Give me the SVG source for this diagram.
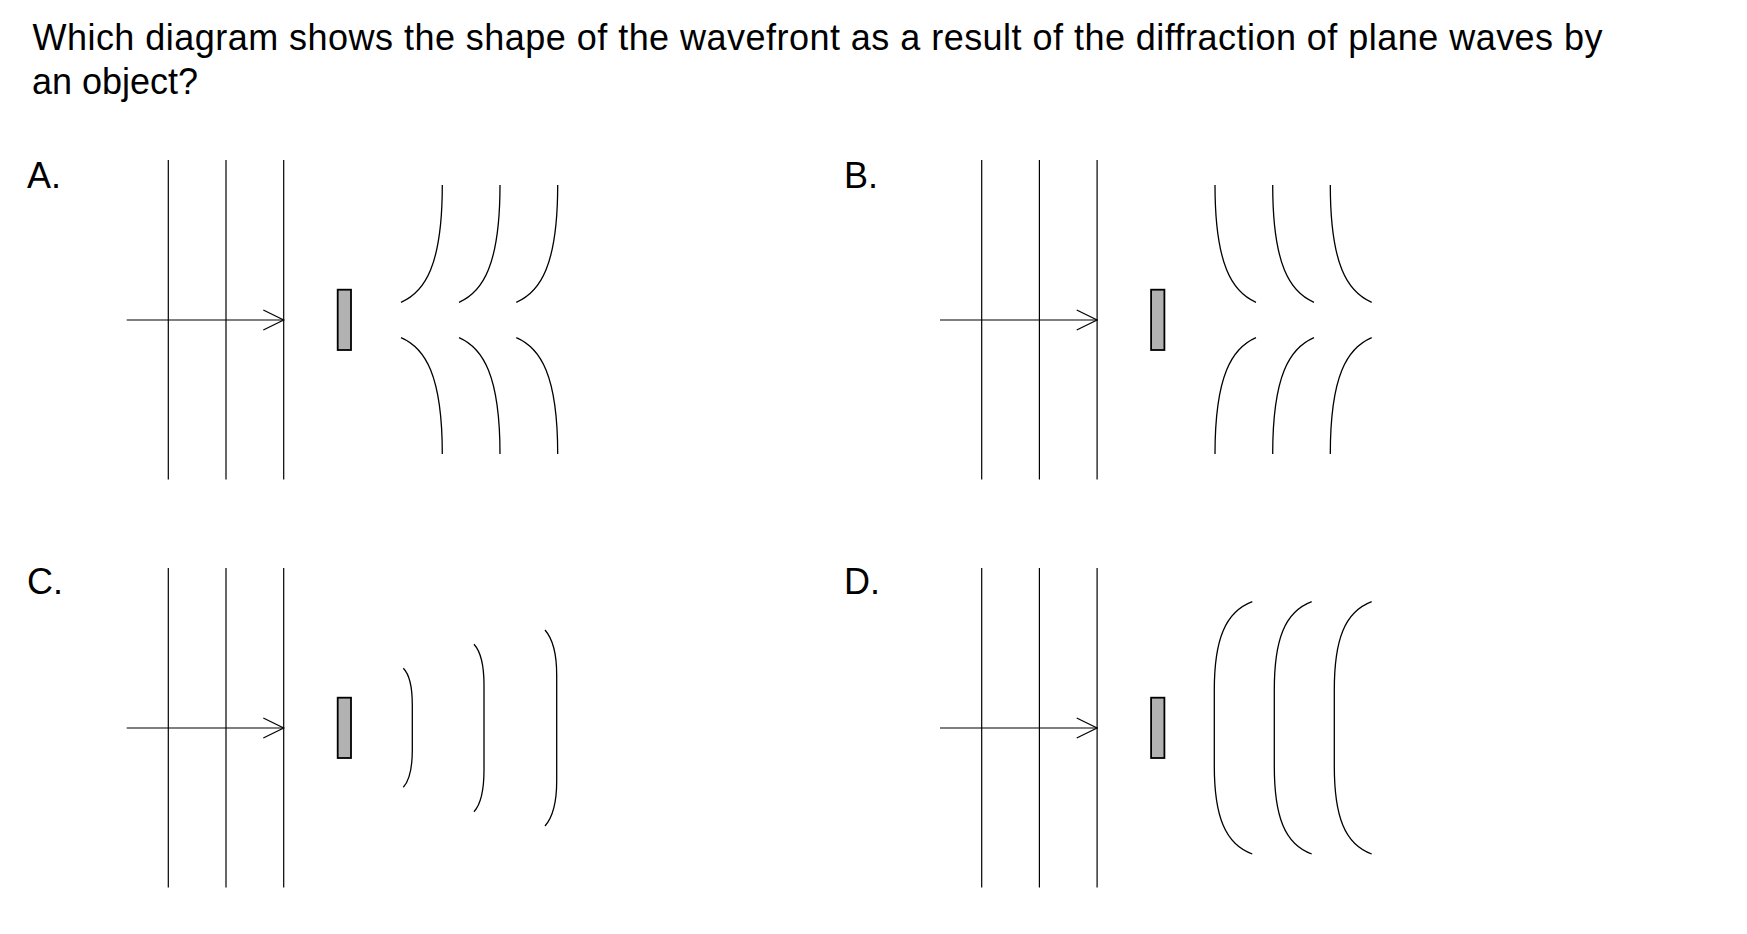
<svg xmlns="http://www.w3.org/2000/svg" width="1747" height="934" viewBox="0 0 1747 934">
<style>
text{font-family:"Liberation Sans",Arial,sans-serif;font-size:36px;fill:#000}
.ln{stroke:#000;stroke-width:1.2;fill:none}
.wave{stroke:#000;stroke-width:1.3;fill:none}
.obj{fill:#b2b2b2;stroke:#000;stroke-width:1.8}
.arr{stroke:#000;stroke-width:1.2;fill:none;marker-end:url(#head)}
</style>
<defs>
<marker id="head" markerUnits="userSpaceOnUse" viewBox="-22 -12 24 24" markerWidth="24" markerHeight="24" refX="0" refY="0" orient="auto" overflow="visible">
<path d="M-20.4,-10 L0,0 L-20.4,10" fill="none" stroke="#000" stroke-width="1.2"/>
</marker>
<g id="plane">
<line class="ln" x1="168.3" y1="160" x2="168.3" y2="479.5"/>
<line class="ln" x1="226" y1="160" x2="226" y2="479.5"/>
<line class="ln" x1="283.7" y1="160" x2="283.7" y2="479.5"/>
</g>
<rect id="objshape" class="obj" x="337.7" y="289.7" width="13.3" height="60.3"/>
</defs>
<rect width="1747" height="934" fill="#fff"/>
<g id="question">
<text x="32.5" y="49.5" textLength="1570" lengthAdjust="spacing">Which diagram shows the shape of the wavefront as a result of the diffraction of plane waves by</text>
<text x="32" y="94">an object?</text>
</g>
<g id="panel-A">
<text x="27" y="188">A.</text>
<use href="#plane"/>
<use href="#objshape"/>
<g id="waves-A">
<path class="wave" d="M442.3,185 C442.3,265 425,292 401,302.3"/>
<path class="wave" d="M401,337.7 C425,348 442.3,375 442.3,454"/>
<path class="wave" d="M500,185 C500,265 482.7,292 459,302.3"/>
<path class="wave" d="M459,337.7 C482.7,348 500,375 500,454"/>
<path class="wave" d="M557.7,185 C557.7,265 540.4,292 516.3,302.3"/>
<path class="wave" d="M516.3,337.7 C540.4,348 557.7,375 557.7,454"/>
</g>
</g>
<g id="panel-B">
<text x="844" y="188">B.</text>
<g transform="translate(813.4,0)"><use href="#plane"/><use href="#objshape"/></g>
<g id="waves-B">
<path class="wave" d="M1215,185 C1215,265 1232.3,292 1256,302.3"/>
<path class="wave" d="M1256,337.7 C1232.3,348 1215,375 1215,454"/>
<path class="wave" d="M1272.7,185 C1272.7,265 1290,292 1314,302.3"/>
<path class="wave" d="M1314,337.7 C1290,348 1272.7,375 1272.7,454"/>
<path class="wave" d="M1330.3,185 C1330.3,265 1347.6,292 1371.7,302.3"/>
<path class="wave" d="M1371.7,337.7 C1347.6,348 1330.3,375 1330.3,454"/>
</g>
</g>
<g id="panel-C">
<text x="27" y="594">C.</text>
<g transform="translate(0,408)"><use href="#plane"/><use href="#objshape"/></g>
<g id="waves-C">
<path class="wave" d="M403.3,668.3 C410,675 412.3,688 412.3,705 L412.3,750 C412.3,767 410,780 403.3,787.3"/>
<path class="wave" d="M474,644.3 C481,652 484,665 484,685 L484,770 C484,790 481,804 474,811.7"/>
<path class="wave" d="M545,630 C552,638 556.7,652 556.7,675 L556.7,781 C556.7,804 552,818 545,826"/>
</g>
</g>
<g id="panel-D">
<text x="844" y="594">D.</text>
<g transform="translate(813.4,408)"><use href="#plane"/><use href="#objshape"/></g>
<g id="waves-D">
<path class="wave" d="M1252.3,601.7 C1225,612 1214.3,640 1214.3,690 L1214.3,766 C1214.3,816 1225,844 1252.3,854"/>
<path class="wave" d="M1311.7,601.7 C1284.4,612 1274.3,640 1274.3,690 L1274.3,766 C1274.3,816 1284.4,844 1311.7,854"/>
<path class="wave" d="M1371.7,601.7 C1344.4,612 1334.3,640 1334.3,690 L1334.3,766 C1334.3,816 1344.4,844 1371.7,854"/>
</g>
</g>
<g id="connectors">
<path class="arr" d="M126.7,320 H283.7"/>
<path class="arr" d="M940,320 H1097.1"/>
<path class="arr" d="M126.7,728 H283.7"/>
<path class="arr" d="M940,728 H1097.1"/>
</g>
</svg>
